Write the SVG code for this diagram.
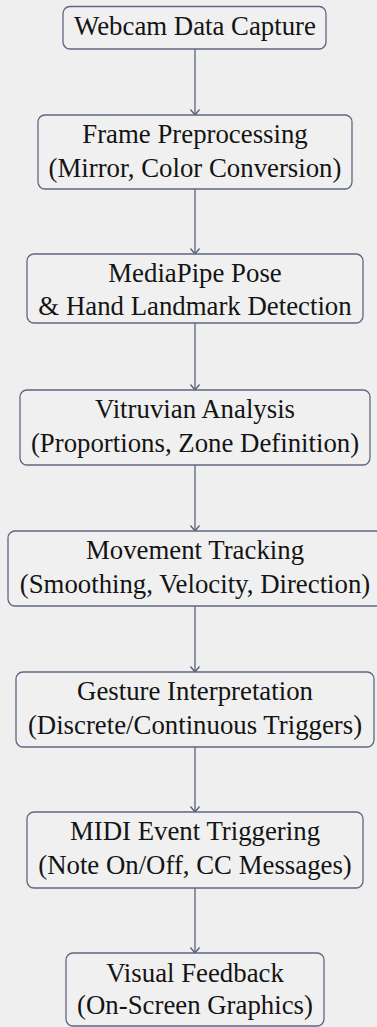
<svg xmlns="http://www.w3.org/2000/svg" width="377" height="1027" viewBox="0 0 377 1027">
<style>
.box{fill:#f0f0f0;stroke:#5d6782;stroke-width:1.3}
.c{stroke:#4f586e;stroke-width:1.2;fill:none}
.t{font-family:'Liberation Serif','Times New Roman',serif;font-size:26.8px;fill:#141414;text-anchor:middle}
</style>
<defs>
<marker id="ah" markerWidth="10" markerHeight="12" refX="8" refY="6" orient="auto" markerUnits="userSpaceOnUse" viewBox="0 0 10 12">
<path d="M2.5,1.5 L8,6 L2.5,10.5" fill="none" stroke="#4f586e" stroke-width="1.2"/>
</marker>
</defs>
<rect width="377" height="1027" fill="#efefef"/>
<g id="connectors">
<line class="c" x1="195" y1="49" x2="195" y2="115" marker-end="url(#ah)"/>
<line class="c" x1="195" y1="189" x2="195" y2="254" marker-end="url(#ah)"/>
<line class="c" x1="195" y1="323" x2="195" y2="390" marker-end="url(#ah)"/>
<line class="c" x1="195" y1="465" x2="195" y2="531" marker-end="url(#ah)"/>
<line class="c" x1="195" y1="606" x2="195" y2="672" marker-end="url(#ah)"/>
<line class="c" x1="195" y1="747" x2="195" y2="812" marker-end="url(#ah)"/>
<line class="c" x1="195" y1="888" x2="195" y2="953" marker-end="url(#ah)"/>
</g>
<g id="n1"><rect class="box" x="63" y="6.5" width="263" height="42.5" rx="7"/><text class="t" x="195" y="35">Webcam Data Capture</text></g>
<g id="n2"><rect class="box" x="38" y="115" width="314" height="74" rx="7"/><text class="t" x="195" y="143">Frame Preprocessing</text><text class="t" x="195" y="177">(Mirror, Color Conversion)</text></g>
<g id="n3"><rect class="box" x="27" y="254" width="336" height="69" rx="7"/><text class="t" x="195" y="282">MediaPipe Pose</text><text class="t" x="195" y="315">&amp; Hand Landmark Detection</text></g>
<g id="n4"><rect class="box" x="20" y="390" width="350" height="75" rx="7"/><text class="t" x="195" y="418">Vitruvian Analysis</text><text class="t" x="195" y="452">(Proportions, Zone Definition)</text></g>
<g id="n5"><rect class="box" x="8" y="531" width="374" height="75" rx="7"/><text class="t" x="195" y="559">Movement Tracking</text><text class="t" x="195" y="593">(Smoothing, Velocity, Direction)</text></g>
<g id="n6"><rect class="box" x="16" y="672" width="358" height="75" rx="7"/><text class="t" x="195" y="700">Gesture Interpretation</text><text class="t" x="195" y="734">(Discrete/Continuous Triggers)</text></g>
<g id="n7"><rect class="box" x="27" y="812" width="336" height="76" rx="7"/><text class="t" x="195" y="840">MIDI Event Triggering</text><text class="t" x="195" y="874">(Note On/Off, CC Messages)</text></g>
<g id="n8"><rect class="box" x="66" y="953" width="258" height="73" rx="7"/><text class="t" x="195" y="982">Visual Feedback</text><text class="t" x="195" y="1014">(On-Screen Graphics)</text></g>
</svg>
